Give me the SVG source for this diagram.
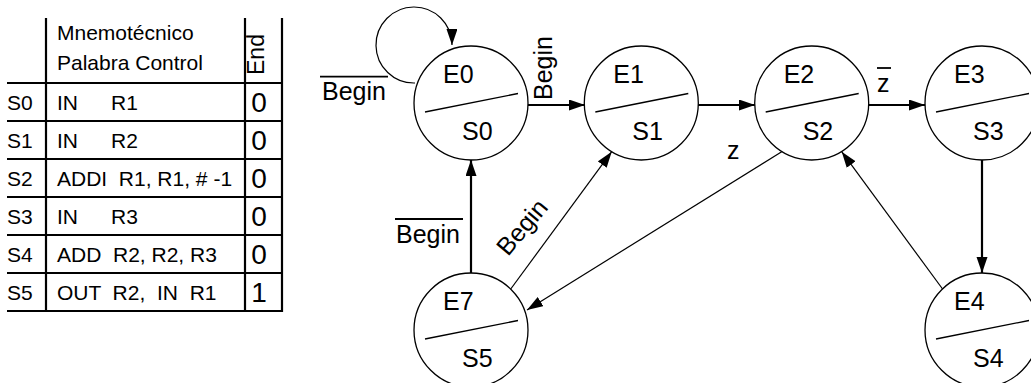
<svg xmlns="http://www.w3.org/2000/svg" width="1031" height="383" viewBox="0 0 1031 383">
<style>
text{font-family:"Liberation Sans",Arial,sans-serif;fill:#000}
.t{font-size:21px}
.d{font-size:28px;text-anchor:middle}
.n{font-size:25px}
.grid{stroke:#000;stroke-width:2.2;fill:none}
.circ{fill:#fff;stroke:#000;stroke-width:1.3}
.div{stroke:#000;stroke-width:1.3}
.thick{stroke:#000;stroke-width:2.2;fill:none}
.thin{stroke:#000;stroke-width:1.2;fill:none}
.bar{stroke:#000;stroke-width:1.8}
</style>
<defs>
<marker id="ah" markerUnits="userSpaceOnUse" markerWidth="17" markerHeight="12" refX="16" refY="5.5" orient="auto">
<path d="M0,0 L16,5.5 L0,11 z" fill="#000"/>
</marker>
</defs>
<rect width="1031" height="383" fill="#fff"/>

<g id="table">
<g class="grid">
<line x1="46" y1="18" x2="46" y2="311"/>
<line x1="245" y1="18" x2="245" y2="311"/>
<line x1="282" y1="18" x2="282" y2="312"/>
<line x1="7" y1="83" x2="283" y2="83"/>
<line x1="7" y1="121" x2="283" y2="121"/>
<line x1="7" y1="159" x2="283" y2="159"/>
<line x1="7" y1="197" x2="283" y2="197"/>
<line x1="7" y1="235" x2="283" y2="235"/>
<line x1="7" y1="273" x2="283" y2="273"/>
<line x1="7" y1="311" x2="283" y2="311"/>
</g>
<text class="t" x="57" y="39.5">Mnemotécnico</text>
<text class="t" x="57" y="69.5">Palabra Control</text>
<text transform="translate(263.5,75) rotate(-90)" style="font-size:23px">End</text>
<text class="t" x="7" y="110">S0</text>
<text class="t" x="57" y="110">IN <tspan x="111">R1</tspan></text>
<text class="d" x="259" y="112">0</text>
<text class="t" x="7" y="148">S1</text>
<text class="t" x="57" y="148">IN <tspan x="111">R2</tspan></text>
<text class="d" x="259" y="150">0</text>
<text class="t" x="7" y="186">S2</text>
<text class="t" x="57" y="186" xml:space="preserve">ADDI  R1, R1, # -1</text>
<text class="d" x="259" y="188">0</text>
<text class="t" x="7" y="224">S3</text>
<text class="t" x="57" y="224">IN <tspan x="111">R3</tspan></text>
<text class="d" x="259" y="226">0</text>
<text class="t" x="7" y="262">S4</text>
<text class="t" x="57" y="262" xml:space="preserve">ADD  R2, R2, R3</text>
<text class="d" x="259" y="264">0</text>
<text class="t" x="7" y="300">S5</text>
<text class="t" x="57" y="300" xml:space="preserve">OUT  R2,  IN  R1</text>
<text class="d" x="259" y="302">1</text>
</g>

<g id="connectors">
<path class="thin" d="M415,83 A38,38 0 1 1 452,45" marker-end="url(#ah)"/>
<line class="thick" x1="528" y1="105" x2="585" y2="105" marker-end="url(#ah)"/>
<line class="thick" x1="698" y1="105" x2="755" y2="105" marker-end="url(#ah)"/>
<line class="thick" x1="868" y1="105" x2="925" y2="105" marker-end="url(#ah)"/>
<line class="thick" x1="982" y1="160" x2="982" y2="273" marker-end="url(#ah)"/>
<line class="thick" x1="471" y1="273" x2="471" y2="160" marker-end="url(#ah)"/>
<line class="thin" x1="510" y1="290" x2="611.7" y2="151.7" marker-end="url(#ah)"/>
<line class="thin" x1="783.3" y1="150.7" x2="527" y2="310" marker-end="url(#ah)"/>
<line class="thin" x1="943.3" y1="290" x2="841.7" y2="151.7" marker-end="url(#ah)"/>
<g id="labels">
<line class="bar" x1="320" y1="76.7" x2="388" y2="76.7"/>
<text class="n" x="322" y="100">Begin</text>
<text class="n" transform="translate(552,100) rotate(-90)">Begin</text>
<line class="bar" x1="877" y1="68" x2="891" y2="68"/>
<text class="n" x="877" y="92">z</text>
<text class="n" x="727" y="159">z</text>
<line class="bar" x1="395" y1="219" x2="463" y2="219"/>
<text class="n" x="396" y="243">Begin</text>
<text class="n" transform="translate(508,257) rotate(-50)">Begin</text>
</g>
</g>

<g id="E0">
<circle class="circ" cx="471" cy="103" r="57"/>
<line class="div" x1="425" y1="112" x2="518" y2="93.5"/>
<text class="n" x="443" y="83">E0</text>
<text class="n" x="462" y="140">S0</text>
</g>
<g id="E1">
<circle class="circ" cx="641.3" cy="103" r="57"/>
<line class="div" x1="595.3" y1="112" x2="688.3" y2="93.5"/>
<text class="n" x="613.3" y="83">E1</text>
<text class="n" x="632.3" y="140">S1</text>
</g>
<g id="E2">
<circle class="circ" cx="811.7" cy="103" r="57"/>
<line class="div" x1="765.7" y1="112" x2="858.7" y2="93.5"/>
<text class="n" x="783.7" y="83">E2</text>
<text class="n" x="802.7" y="140">S2</text>
</g>
<g id="E3">
<circle class="circ" cx="982" cy="103" r="57"/>
<line class="div" x1="936" y1="112" x2="1029" y2="93.5"/>
<text class="n" x="954" y="83">E3</text>
<text class="n" x="973" y="140">S3</text>
</g>
<g id="E4">
<circle class="circ" cx="982" cy="330" r="57"/>
<line class="div" x1="936" y1="339" x2="1029" y2="320.5"/>
<text class="n" x="954" y="310">E4</text>
<text class="n" x="973" y="367">S4</text>
</g>
<g id="E7">
<circle class="circ" cx="471" cy="330" r="57"/>
<line class="div" x1="425" y1="339" x2="518" y2="320.5"/>
<text class="n" x="443" y="310">E7</text>
<text class="n" x="462" y="367">S5</text>
</g>
</svg>
